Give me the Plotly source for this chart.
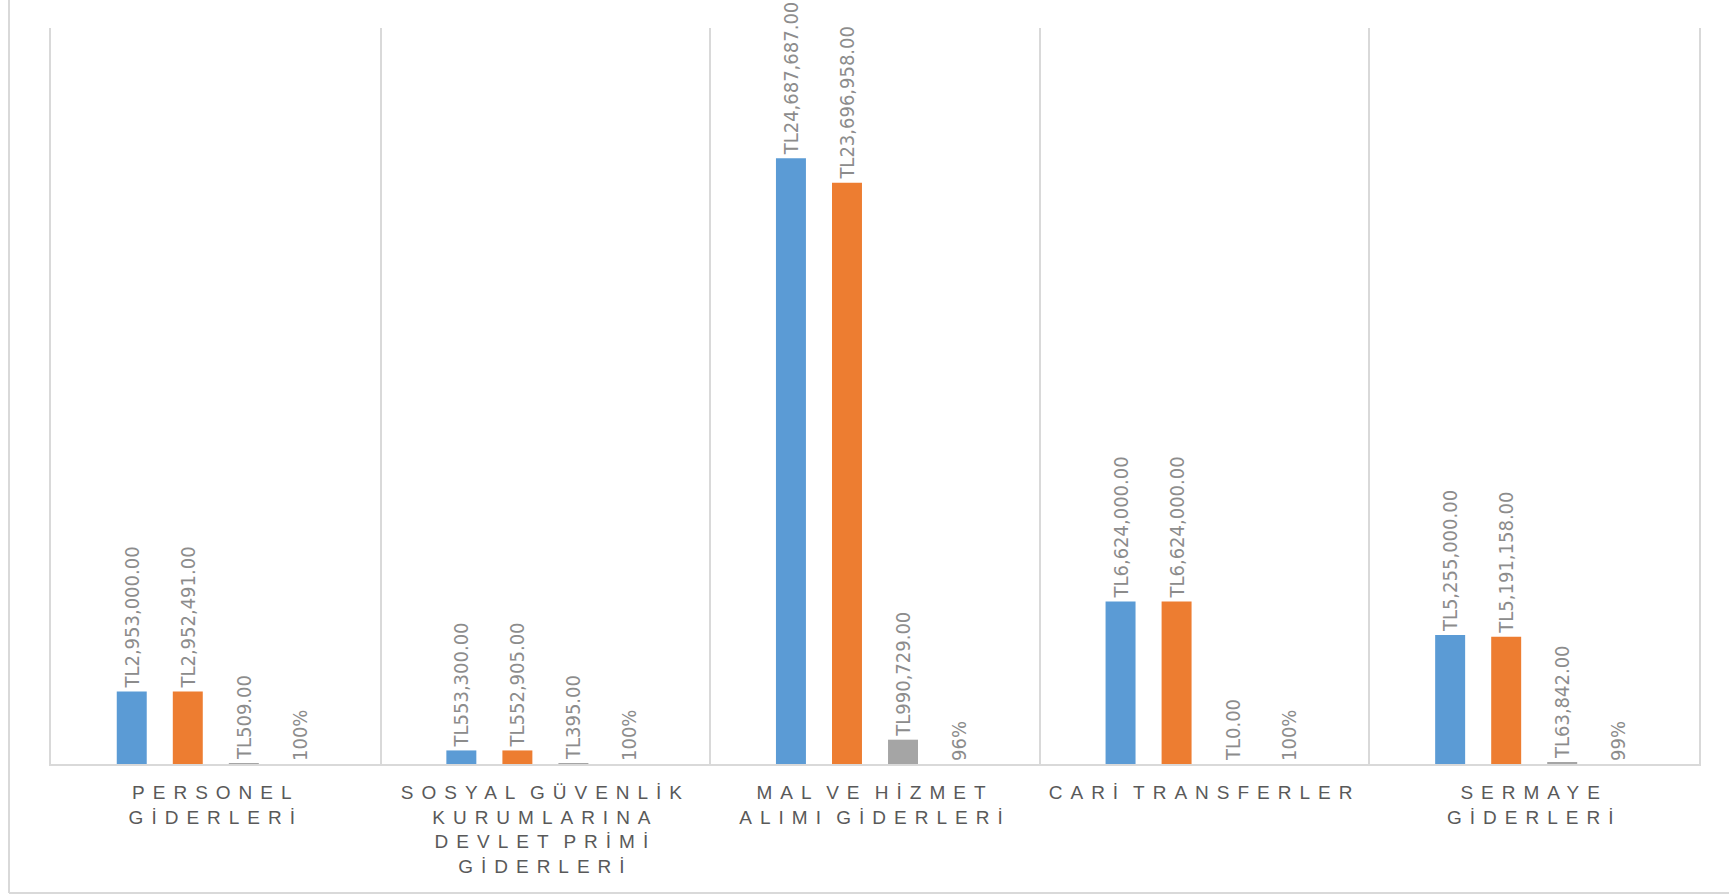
import plotly.graph_objects as go

categories = [
    "PERSONEL<br>GİDERLERİ",
    "SOSYAL GÜVENLİK<br>KURUMLARINA<br>DEVLET PRİMİ<br>GİDERLERİ",
    "MAL VE HİZMET<br>ALIMI GİDERLERİ",
    "CARİ TRANSFERLER",
    "SERMAYE<br>GİDERLERİ",
]
odenek = [2953000, 553300, 24687687, 6624000, 5255000]
harcama = [2952491, 552905, 23696958, 6624000, 5191158]
kalan = [509, 395, 990729, 0, 63842]
oran = [0.9998, 0.9993, 0.96, 1.0, 0.9879]

W, H = 1729, 896
ML, MR, MT, MB = 51, 30, 28, 132

label_font = dict(family="Liberation Sans Narrow, DejaVu Sans Condensed, Arial Narrow, sans-serif",
                  size=20, color="#8c8c8c")

def money(vals):
    return ["TL{:,.2f}".format(v) for v in vals]

fig = go.Figure()
series = [
    (odenek, "#5B9BD5", money(odenek)),
    (harcama, "#ED7D31", money(harcama)),
    (kalan, "#A5A5A5", money(kalan)),
    (oran, "#FFC000", ["{:.0%}".format(v) for v in oran]),
]
for vals, col, txt in series:
    fig.add_trace(go.Bar(
        x=categories, y=vals,
        marker=dict(color=col, line=dict(width=0)),
        text=txt, textposition="outside", textangle=-90,
        textfont=label_font, constraintext="none", cliponaxis=False,
        hoverinfo="skip",
    ))

pw = W - ML - MR
ph = H - MT - MB
def px_x(p):
    return (p - ML) / pw
def px_y(p):
    return (H - MB - p) / ph

fig.update_layout(
    width=W, height=H,
    margin=dict(l=ML, r=MR, t=MT, b=MB, pad=0),
    paper_bgcolor="white", plot_bgcolor="white",
    showlegend=False,
    barmode="group", bargap=0.32, bargroupgap=0.465,
    font=dict(family="Liberation Sans, Arial, sans-serif", color="#595959"),
    xaxis=dict(
        type="category",
        tickson="boundaries", showgrid=True, gridcolor="#d9d9d9", gridwidth=2,
        showline=True, linecolor="#d9d9d9", linewidth=2,
        ticks="", tickfont=dict(family="Liberation Sans, Arial, sans-serif", size=19, color="#595959"),
        tickangle=0, ticklabelstandoff=10, zeroline=False,
    ),
    yaxis=dict(
        range=[0, 30000000], showgrid=False, zeroline=False, showticklabels=False,
        showline=True, mirror=True, linecolor="#d9d9d9", linewidth=2, ticks="",
    ),
    shapes=[
        dict(type="line", xref="paper", yref="paper", x0=px_x(9), x1=px_x(9),
             y0=px_y(0), y1=px_y(893), line=dict(color="#d9d9d9", width=2)),
        dict(type="line", xref="paper", yref="paper", x0=px_x(9), x1=px_x(1729),
             y0=px_y(893), y1=px_y(893), line=dict(color="#d9d9d9", width=2)),
    ],
)

post = """
document.body.style.margin='0';
document.body.style.overflow='hidden';
var gd = document.getElementById('{plot_id}');
function sp(){ gd.querySelectorAll('.xtick text').forEach(function(t){ t.style.letterSpacing='8px'; t.style.wordSpacing='-6px'; }); }
sp();
gd.on('plotly_afterplot', sp);
"""
fig.write_html("out.html", post_script=post, config={"displayModeBar": False})
